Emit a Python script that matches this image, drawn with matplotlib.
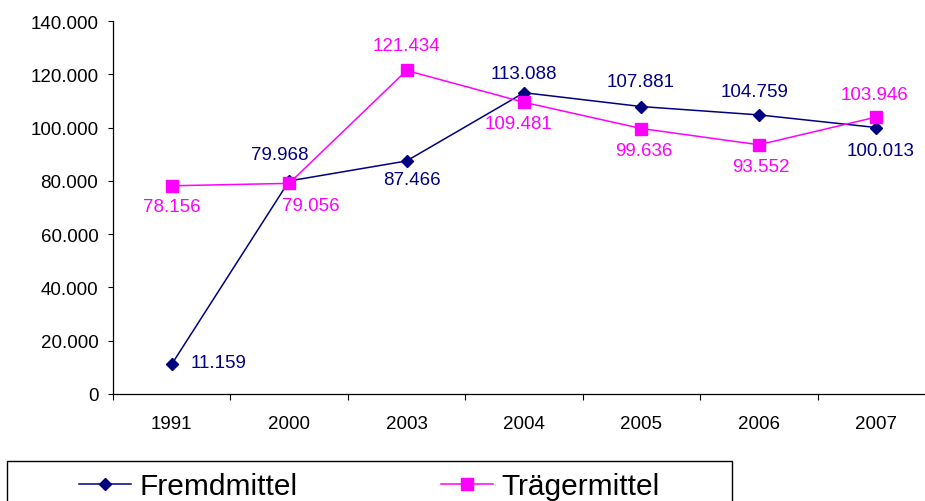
import matplotlib
matplotlib.use('Agg')
import matplotlib.pyplot as plt
from matplotlib.patches import Rectangle
from matplotlib.ticker import FuncFormatter

# data
jahre = ['1991', '2000', '2003', '2004', '2005', '2006', '2007']
fremdmittel = [11159, 79968, 87466, 113088, 107881, 104759, 100013]
traegermittel = [78156, 79056, 121434, 109481, 99636, 93552, 103946]

# posisi label (offset dalam pixel) dan warna
off_fremd = [(47, 2), (-9, 26), (5, -19), (0, 19), (-1, 25), (-4, 23), (4, -23)]
off_traeger = [(0, -21), (22, -22), (0, 25), (-6, -21), (2, -22), (2, -22), (-2, 23)]
navy = '#000080'
magenta = '#FF00FF'

plt.rcParams['font.family'] = ['Liberation Sans', 'DejaVu Sans']

W, H = 925, 502
fig = plt.figure(figsize=(W / 100, H / 100), dpi=100)
ax = fig.add_axes([113 / W, 107 / H, 822 / W, 373 / H])

x = list(range(len(jahre)))
ax.plot(x, fremdmittel, color=navy, lw=1.1, marker='D', ms=6.5, label='Fremdmittel')
ax.plot(x, traegermittel, color=magenta, lw=1.1, marker='s', ms=8.5, label='Trägermittel')

fmt = lambda v: f'{v:,}'.replace(',', '.')
for i, v in enumerate(fremdmittel):
    dx, dy = off_fremd[i]
    ax.annotate(fmt(v), (i, v), xytext=(dx, dy), textcoords='offset pixels',
                ha='center', va='center', color=navy, fontsize=13.5)
for i, v in enumerate(traegermittel):
    dx, dy = off_traeger[i]
    ax.annotate(fmt(v), (i, v), xytext=(dx, dy), textcoords='offset pixels',
                ha='center', va='center', color=magenta, fontsize=13.5)

ax.set_xlim(-0.5, len(jahre) - 0.5)
ax.set_ylim(0, 140000)
ax.set_yticks(range(0, 140001, 20000))
ax.yaxis.set_major_formatter(FuncFormatter(lambda v, p: fmt(int(v))))
ax.set_xticks([i + 0.5 for i in range(-1, len(jahre))])
ax.set_xticklabels([])
ax.set_xticks(x, minor=True)
ax.set_xticklabels(jahre, minor=True)
ax.tick_params(axis='x', which='minor', length=0, pad=15, labelsize=13.5)
ax.tick_params(axis='x', which='major', length=4.3, direction='out')
ax.tick_params(axis='y', length=3.6, direction='out', labelsize=13.5, pad=7)
for s in ['top', 'right']:
    ax.spines[s].set_visible(False)
ax.spines['left'].set_linewidth(0.9)
ax.spines['bottom'].set_linewidth(0.9)

# kotak legenda di bawah (terpotong di tepi gambar)
fig.patches.append(Rectangle((7 / W, -10 / H), 725 / W, 50 / H, transform=fig.transFigure,
                             fill=False, edgecolor='black', lw=1.0))
fig.legend(loc='center left', bbox_to_anchor=(79 / W, 1 - 487.5 / H), ncol=2, frameon=False,
           fontsize=21.5, handlelength=1.74, handletextpad=0.3, columnspacing=4.78,
           borderpad=0, borderaxespad=0)

fig.savefig('out.png', dpi=100)
